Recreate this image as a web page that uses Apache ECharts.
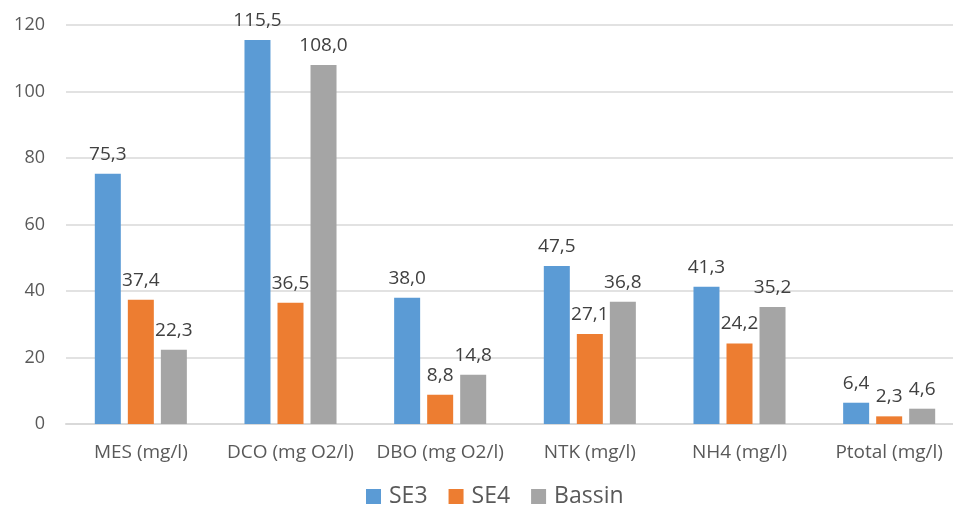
<!DOCTYPE html>
<html><head><meta charset="utf-8">
<script src="https://cdn.jsdelivr.net/npm/echarts@6/dist/echarts.min.js"></script>
<style>html,body{margin:0;padding:0;background:#fff}#c{width:953px;height:514px}</style>
</head><body><div id="c"></div>
<script>
const categories = ['MES (mg/l)', 'DCO (mg O2/l)', 'DBO (mg O2/l)', 'NTK (mg/l)', 'NH4 (mg/l)', 'Ptotal (mg/l)'];
const se3 = [75.3, 115.5, 38.0, 47.5, 41.3, 6.4];
const se4 = [37.4, 36.5, 8.8, 27.1, 24.2, 2.3];
const bassin = [22.3, 108.0, 14.8, 36.8, 35.2, 4.6];
const yTicks = [0, 20, 40, 60, 80, 100, 120];

const font = '"Open Sans", "Liberation Sans", sans-serif';
const txt = '#595959';
function mk(name, data, color) {
  return {
    name, type: 'bar', data, barWidth: 26, barGap: '27%',
    itemStyle: { color },
    label: { show: true, position: 'top', distance: 10, color: '#404040', fontFamily: font, fontSize: 19,
      formatter: p => p.value.toFixed(1).replace('.', ',') }
  };
}
const chart = echarts.init(document.getElementById('c'));
chart.setOption({
  animation: false,
  textStyle: { fontFamily: font },
  legend: {
    bottom: 1, left: 361, itemWidth: 15, itemHeight: 15, itemGap: 21,
    icon: 'rect',
    textStyle: { fontFamily: font, fontSize: 23, color: txt, padding: [0, 0, 0, 3] }
  },
  grid: { left: 66, width: 898, top: 25, bottom: 90, containLabel: false, outerBoundsMode: 'none' },
  xAxis: {
    type: 'category', data: categories,
    axisLine: { lineStyle: { color: '#d9d9d9', width: 2 } },
    axisTick: { show: false },
    axisLabel: { color: txt, fontFamily: font, fontSize: 19, margin: 19, interval: 0 }
  },
  yAxis: {
    type: 'value', min: yTicks[0], max: yTicks[yTicks.length - 1], interval: 20,
    axisLine: { show: false }, axisTick: { show: false },
    splitLine: { lineStyle: { color: '#d9d9d9', width: 1.5 } },
    axisLabel: { color: txt, fontFamily: font, fontSize: 18, margin: 21 }
  },
  series: [mk('SE3', se3, '#5B9BD5'), mk('SE4', se4, '#ED7D31'), mk('Bassin', bassin, '#A5A5A5')]
});
</script></body></html>
